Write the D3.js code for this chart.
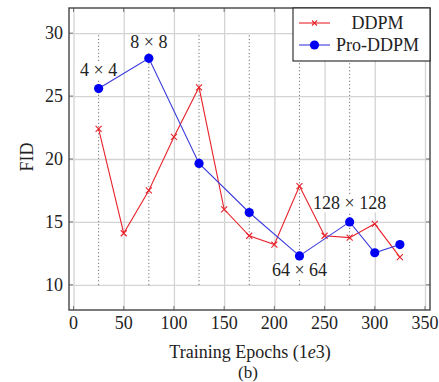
<!DOCTYPE html>
<html>
<head>
<meta charset="utf-8">
<script src="https://cdn.jsdelivr.net/npm/d3@7"></script>
<style>
  body { margin: 0; background: #fff; }
  svg text { font-family: "Liberation Serif", "DejaVu Serif", serif; fill: #222; }
</style>
</head>
<body>
<svg id="chart" width="439" height="382"></svg>
<script>
var ddpmX = [25, 50, 75, 100, 125, 150, 175, 200, 225, 250, 275, 300, 325];
var ddpmY = [22.4, 14.1, 17.5, 21.75, 25.7, 16.0, 13.9, 13.2, 17.85, 13.9, 13.75, 14.85, 12.2];
var proX = [25, 75, 125, 175, 225, 275, 300, 325];
var proY = [25.6, 28.0, 19.65, 15.75, 12.3, 15.0, 12.55, 13.2];
var xTicks = [0, 50, 100, 150, 200, 250, 300, 350];
var yTicks = [10, 15, 20, 25, 30];
var stageX = [25, 75, 125, 175, 225, 275];
var noteText = ["4 \u00d7 4", "8 \u00d7 8", "64 \u00d7 64", "128 \u00d7 128"];
var noteX = [25, 75, 225, 275];
var noteY = [27.1, 29.3, 11.2, 16.5];
var seriesNames = ["DDPM", "Pro-DDPM"];

var svg = d3.select("#chart");
var plotL = 69, plotR = 430, plotT = 8, plotB = 310;

var x = d3.scaleLinear().domain([-4.5, 355]).range([plotL, plotR]);
var y = d3.scaleLinear().domain([8, 32]).range([plotB, plotT]);

// grid
svg.append("g")
    .attr("transform", "translate(0," + plotB + ")")
    .call(d3.axisBottom(x).tickValues(xTicks).tickSize(-(plotB - plotT)).tickFormat(""))
    .call(g => g.select(".domain").remove())
    .selectAll("line").attr("stroke", "#d4d4d4").attr("stroke-width", 1.3);
svg.append("g")
    .attr("transform", "translate(" + plotL + ",0)")
    .call(d3.axisLeft(y).tickValues(yTicks).tickSize(-(plotR - plotL)).tickFormat(""))
    .call(g => g.select(".domain").remove())
    .selectAll("line").attr("stroke", "#d4d4d4").attr("stroke-width", 1.3);

// inner ticks on all sides
var tk = svg.append("g").attr("stroke", "#777").attr("stroke-width", 1);
xTicks.forEach(function (v) {
    tk.append("line").attr("x1", x(v)).attr("x2", x(v)).attr("y1", plotB).attr("y2", plotB - 4);
    tk.append("line").attr("x1", x(v)).attr("x2", x(v)).attr("y1", plotT).attr("y2", plotT + 4);
});
yTicks.forEach(function (v) {
    tk.append("line").attr("x1", plotL).attr("x2", plotL + 4).attr("y1", y(v)).attr("y2", y(v));
    tk.append("line").attr("x1", plotR).attr("x2", plotR - 4).attr("y1", y(v)).attr("y2", y(v));
});

// tick labels
svg.append("g").selectAll("text").data(xTicks).join("text")
    .attr("x", d => x(d)).attr("y", 329)
    .attr("text-anchor", "middle").style("font-size", "18px")
    .text(d => d);
svg.append("g").selectAll("text").data(yTicks).join("text")
    .attr("x", 63).attr("y", d => y(d)).attr("dy", "0.35em")
    .attr("text-anchor", "end").style("font-size", "18px")
    .text(d => d);

// dotted stage lines
svg.append("g").selectAll("line").data(stageX).join("line")
    .attr("x1", d => x(d)).attr("x2", d => x(d))
    .attr("y1", y(10)).attr("y2", y(30))
    .attr("stroke", "#444").attr("stroke-width", 0.9)
    .attr("stroke-dasharray", "1,2.5");

// resolution notes (white box behind, like pgf nodes with fill)
noteText.forEach(function (t, i) {
    var g = svg.append("g");
    var bg = g.append("rect").attr("fill", "#fff");
    var tx = g.append("text")
        .attr("x", x(noteX[i])).attr("y", y(noteY[i])).attr("dy", "0.35em")
        .attr("text-anchor", "middle").style("font-size", "18px")
        .text(t);
    var bb = tx.node().getBBox();
    bg.attr("x", bb.x - 1).attr("y", bb.y + 2).attr("width", bb.width + 2).attr("height", bb.height - 3);
});

var line = d3.line().x(d => x(d[0])).y(d => y(d[1]));
var ddpm = d3.zip(ddpmX, ddpmY);
var pro = d3.zip(proX, proY);

// DDPM
svg.append("path").datum(ddpm).attr("d", line)
    .attr("fill", "none").attr("stroke", "#e8232b").attr("stroke-width", 1.1);
svg.append("g").selectAll("path").data(ddpm).join("path")
    .attr("transform", d => "translate(" + x(d[0]) + "," + y(d[1]) + ")")
    .attr("d", "M-3,-3L3,3M-3,3L3,-3")
    .attr("stroke", "#e8232b").attr("stroke-width", 1.1);

// Pro-DDPM
svg.append("path").datum(pro).attr("d", line)
    .attr("fill", "none").attr("stroke", "#3b3bdc").attr("stroke-width", 1.1);
svg.append("g").selectAll("circle").data(pro).join("circle")
    .attr("cx", d => x(d[0])).attr("cy", d => y(d[1])).attr("r", 4.6)
    .attr("fill", "#0000f5");

// frame
svg.append("rect").attr("x", plotL).attr("y", plotT)
    .attr("width", plotR - plotL).attr("height", plotB - plotT)
    .attr("fill", "none").attr("stroke", "#444").attr("stroke-width", 1.4);

// legend
var lg = svg.append("g").attr("transform", "translate(293,8)");
lg.append("rect").attr("width", 137).attr("height", 53)
    .attr("fill", "#fff").attr("stroke", "#222").attr("stroke-width", 1.1);
var legColors = ["#e8232b", "#3b3bdc"];
seriesNames.forEach(function (n, i) {
    var ly = 15 + i * 22;
    lg.append("line").attr("x1", 6).attr("x2", 37).attr("y1", ly).attr("y2", ly)
        .attr("stroke", legColors[i]).attr("stroke-width", 1.1);
    if (i == 0) {
        lg.append("path").attr("transform", "translate(21.5," + ly + ")")
            .attr("d", "M-2.5,-2.5L2.5,2.5M-2.5,2.5L2.5,-2.5")
            .attr("stroke", legColors[i]).attr("stroke-width", 1.1);
    } else {
        lg.append("circle").attr("cx", 21.5).attr("cy", ly).attr("r", 4.6).attr("fill", "#0000f5");
    }
    lg.append("text").attr("x", 84.5).attr("y", ly).attr("dy", "0.35em")
        .attr("text-anchor", "middle").style("font-size", "18px")
        .text(n);
});

// axis titles
svg.append("text").attr("transform", "translate(33,157) rotate(-90)")
    .attr("text-anchor", "middle").style("font-size", "18px").text("FID");
var xt = svg.append("text").attr("x", 250).attr("y", 358)
    .attr("text-anchor", "middle").style("font-size", "18px");
xt.append("tspan").text("Training Epochs (1");
xt.append("tspan").style("font-style", "italic").text("e");
xt.append("tspan").text("3)");
svg.append("text").attr("x", 248).attr("y", 378)
    .attr("text-anchor", "middle").style("font-size", "17px").text("(b)");
</script>
</body>
</html>
